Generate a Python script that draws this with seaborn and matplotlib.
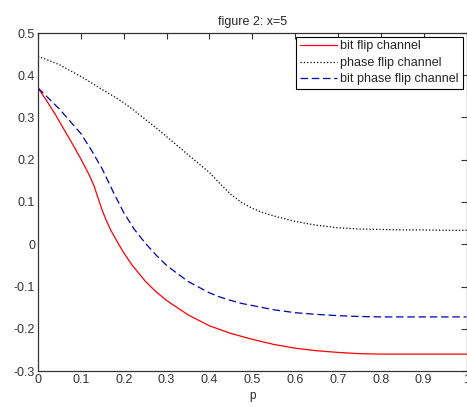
import numpy as np
import pandas as pd
import seaborn as sns
import matplotlib
matplotlib.use('Agg')
import matplotlib.pyplot as plt

# values
p_bit = [0, 0.02, 0.04, 0.06, 0.08, 0.10, 0.12, 0.13, 0.14, 0.15, 0.16, 0.17, 0.18, 0.19, 0.20,
         0.22, 0.25, 0.275, 0.30, 0.35, 0.40, 0.45, 0.50, 0.55, 0.60, 0.65, 0.70, 0.75, 0.80,
         0.85, 0.90, 0.95, 1.0]
bit_flip = [0.37, 0.34, 0.308, 0.273, 0.238, 0.202, 0.163, 0.14, 0.11, 0.08, 0.055, 0.033, 0.015,
            -0.003, -0.02, -0.05, -0.087, -0.112, -0.133, -0.167, -0.193, -0.211, -0.225, -0.237,
            -0.246, -0.252, -0.256, -0.259, -0.26, -0.26, -0.26, -0.26, -0.26]

p = [0, 0.05, 0.10, 0.125, 0.15, 0.175, 0.20, 0.225, 0.25, 0.275, 0.30, 0.35, 0.40, 0.425,
     0.45, 0.475, 0.50, 0.525, 0.55, 0.60, 0.65, 0.70, 0.75, 0.80, 0.85, 0.90, 0.95, 1.0]
phase_flip = [0.445, 0.425, 0.397, 0.382, 0.366, 0.351, 0.335, 0.316, 0.296, 0.276, 0.255,
              0.212, 0.17, 0.143, 0.118, 0.099, 0.085, 0.075, 0.067, 0.054, 0.045, 0.039,
              0.036, 0.035, 0.034, 0.034, 0.033, 0.033]
bit_phase_flip = [0.37, 0.32, 0.262, 0.222, 0.178, 0.125, 0.075, 0.035, 0.003, -0.025, -0.05,
                  -0.088, -0.115, -0.125, -0.133, -0.14, -0.145, -0.15, -0.155, -0.162, -0.166,
                  -0.169, -0.171, -0.172, -0.172, -0.172, -0.172, -0.172]

labels = ['bit flip channel', 'phase flip channel', 'bit phase flip channel']

sns.set_style('white')
plt.rcParams['font.family'] = ['Liberation Sans', 'DejaVu Sans']
plt.rcParams['xtick.direction'] = 'in'
plt.rcParams['ytick.direction'] = 'in'

fig = plt.figure(figsize=(4.67, 4.07), dpi=100)
ax = fig.add_axes([38/467, 1 - 371/407, 428.5/467, 338/407])

sns.lineplot(x=p_bit, y=bit_flip, ax=ax, color='red', lw=0.9, label=labels[0])
sns.lineplot(x=p, y=phase_flip, ax=ax, color='black', lw=0.9, linestyle=':', label=labels[1])
sns.lineplot(x=p, y=bit_phase_flip, ax=ax, color='#0000b0', lw=0.9, linestyle=(0, (6, 3)), label=labels[2])

ax.set_xlim(0, 1)
ax.set_ylim(-0.3, 0.5)
ax.set_xticks(np.arange(0, 1.01, 0.1))
ax.set_xticklabels(['0', '0.1', '0.2', '0.3', '0.4', '0.5', '0.6', '0.7', '0.8', '0.9', '1'])
ax.set_yticks(np.arange(-0.3, 0.51, 0.1))
ax.set_yticklabels(['-0.3', '-0.2', '-0.1', '0', '0.1', '0.2', '0.3', '0.4', '0.5'])
ax.tick_params(axis='both', which='both', top=True, right=True, length=4, width=0.8,
               labelsize=9, colors='#333333', labelcolor='#333333', pad=2)
for s in ax.spines.values():
    s.set_color('#333333')
    s.set_linewidth(0.9)

ax.set_title('figure 2: x=5', fontsize=9, pad=6)
ax.set_xlabel('p', fontsize=8.5, labelpad=3)

leg = ax.legend(loc='upper right', fontsize=9, frameon=True, fancybox=False,
                edgecolor='black', framealpha=1, handlelength=3.0, handletextpad=0.25,
                borderpad=0.3, labelspacing=0.35, borderaxespad=0.3)
leg.get_frame().set_linewidth(0.8)

fig.savefig('out.png', dpi=100)
